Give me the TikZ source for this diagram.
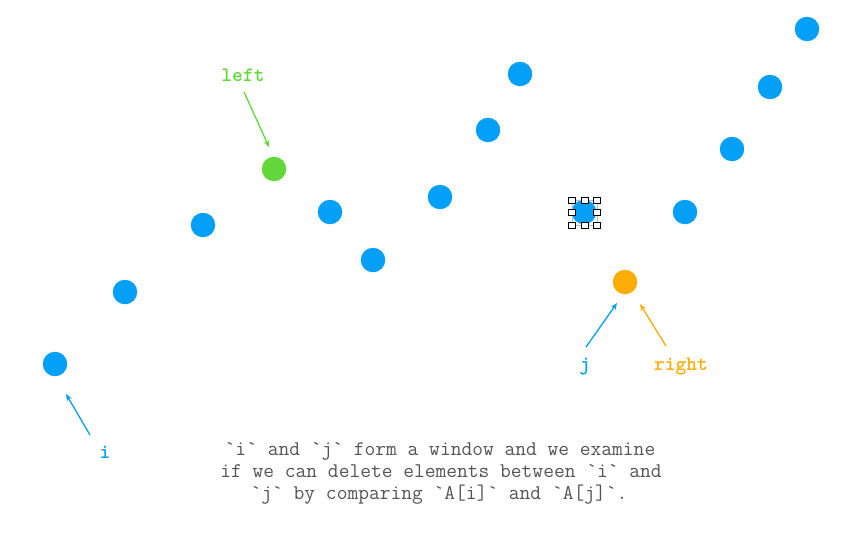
\documentclass[tikz,border=0pt]{standalone}
\usepackage{fontspec}
\usetikzlibrary{arrows.meta}
\definecolor{dotblue}{HTML}{04A0F7}
\definecolor{dotgreen}{HTML}{62D83A}
\definecolor{dotorange}{HTML}{FCAD05}
\definecolor{bodygray}{HTML}{555555}
\definecolor{selblue}{HTML}{9FC3F5}
\tikzset{
  dot/.style={circle, fill=#1, draw=none, minimum size=24.5pt, inner sep=0pt},
  dot/.default=dotblue,
  tag/.style={font=\ttfamily\bfseries\fontsize{20.5}{24}\selectfont, text=#1, anchor=base, inner sep=0pt},
  pointer/.style={draw=#1, line width=1.3pt, -{Stealth[length=7pt,width=5.5pt]}},
  bodyline/.style={font=\ttfamily\fontsize{20.9}{22}\selectfont, text=bodygray, anchor=base, inner sep=0pt},
  handle/.style={draw=black, fill=white, line width=1pt, minimum size=6.5pt, inner sep=0pt},
}
\begin{document}
\begin{tikzpicture}[x=1pt, y=-1pt]
\useasboundingbox (0,0) rectangle (858,539);

% the sequence of values
\node[dot] (d1)  at (55,364) {};
\node[dot] (d2)  at (125,292) {};
\node[dot] (d3)  at (203,225) {};
\node[dot=dotgreen] (d4) at (274,169) {};
\node[dot] (d5)  at (330,212) {};
\node[dot] (d6)  at (373,260) {};
\node[dot] (d7)  at (440,197) {};
\node[dot] (d8)  at (488,130) {};
\node[dot] (d9)  at (520,74) {};
\node[dot] (d10) at (584,212) {};
\node[dot=dotorange] (d11) at (625,282) {};
\node[dot] (d12) at (685,212) {};
\node[dot] (d13) at (732,149) {};
\node[dot] (d14) at (770,87) {};
\node[dot] (d15) at (807,29) {};

% selection frame around one value
\draw[selblue, line width=0.6pt] (572,200) rectangle (597,225.5);
\foreach \hx/\hy [count=\k] in {572/200.5, 585/200.5, 597/200.5, 572/212.5, 597/212.5, 572/225.5, 585/225.5, 597/225.5}
  \node[handle] (h\k) at (\hx,\hy) {};

% labels
\node[tag=dotgreen] (lleft) at (243,81) {left};
\node[tag=dotblue] (li) at (105,458) {i};
\node[tag=dotblue] (lj) at (585,370) {j};
\node[tag=dotorange] (lright) at (681,370) {right};

% pointer ends
\coordinate (pl0) at (244,92);
\coordinate (pl1) at (269,147);
\coordinate (pi0) at (90,435);
\coordinate (pi1) at (66,394);
\coordinate (pj0) at (586,347);
\coordinate (pj1) at (617,303);
\coordinate (pr0) at (666,346);
\coordinate (pr1) at (640,304);

\draw[pointer=dotgreen] (pl0) -- (pl1);
\draw[pointer=dotblue] (pi0) -- (pi1);
\draw[pointer=dotblue] (pj0) -- (pj1);
\draw[pointer=dotorange] (pr0) -- (pr1);

% explanation
\node[bodyline] (t1) at (440,455) {`i` and `j` form a window and we examine};
\node[bodyline] (t2) at (441,477) {if we can delete elements between `i` and};
\node[bodyline] (t3) at (439,499) {`j` by comparing `A[i]` and `A[j]`.};
\end{tikzpicture}
\end{document}
